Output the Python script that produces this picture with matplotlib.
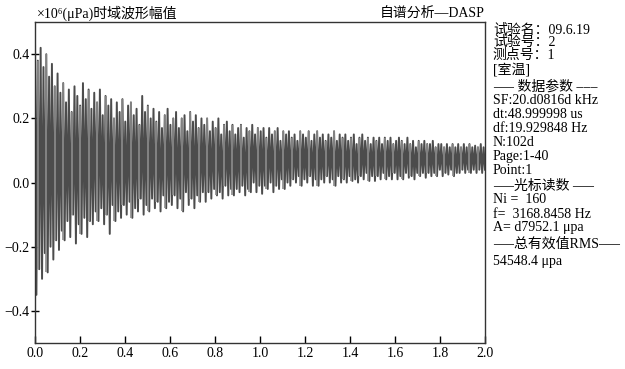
import numpy as np
import matplotlib
matplotlib.use('Agg')
import matplotlib.pyplot as plt

# 波形包络峰值 (上峰 / 下峰), 每行 0.125 s
upper = [
    0.45, 0.38, 0.42, 0.36, 0.40, 0.33, 0.37, 0.30, 0.34, 0.28,
    0.31, 0.25, 0.29, 0.22, 0.30, 0.27, 0.24, 0.31, 0.26, 0.29,
    0.23, 0.28, 0.25, 0.29, 0.21, 0.27, 0.24, 0.26, 0.20, 0.25,
    0.22, 0.26, 0.19, 0.24, 0.25, 0.21, 0.23, 0.18, 0.27, 0.22,
    0.24, 0.20, 0.23, 0.19, 0.22, 0.17, 0.21, 0.23, 0.18, 0.20,
    0.22, 0.17, 0.20, 0.21, 0.16, 0.22, 0.19, 0.21, 0.17, 0.20,
    0.18, 0.20, 0.16, 0.19, 0.17, 0.20, 0.15, 0.18, 0.19, 0.16,
    0.18, 0.15, 0.17, 0.18, 0.14, 0.17, 0.16, 0.18, 0.15, 0.17,
    0.16, 0.17, 0.14, 0.17, 0.15, 0.16, 0.17, 0.13, 0.16, 0.15,
    0.16, 0.14, 0.15, 0.13, 0.16, 0.15, 0.14, 0.16, 0.13, 0.15,
    0.16, 0.14, 0.15, 0.13, 0.15, 0.14, 0.16, 0.13, 0.15, 0.14,
    0.15, 0.13, 0.14, 0.15, 0.12, 0.14, 0.15, 0.13, 0.14, 0.12,
    0.14, 0.13, 0.14, 0.12, 0.14, 0.13, 0.14, 0.12, 0.13, 0.14,
    0.13, 0.12, 0.14, 0.12, 0.13, 0.11, 0.13, 0.12, 0.13, 0.12,
    0.12, 0.13, 0.11, 0.12, 0.12, 0.11, 0.12, 0.11, 0.12, 0.11,
    0.12, 0.11, 0.12, 0.11, 0.12, 0.11, 0.115, 0.11, 0.12, 0.11,
]
lower = [
    -0.35, -0.27, -0.30, -0.22, -0.28, -0.20, -0.24, -0.18, -0.21, -0.15,
    -0.18, -0.12, -0.17, -0.10, -0.19, -0.13, -0.16, -0.11, -0.17, -0.12,
    -0.13, -0.09, -0.12, -0.08, -0.13, -0.10, -0.16, -0.07, -0.12, -0.09,
    -0.11, -0.07, -0.10, -0.06, -0.11, -0.08, -0.09, -0.05, -0.10, -0.07,
    -0.09, -0.05, -0.08, -0.06, -0.09, -0.04, -0.08, -0.06, -0.07, -0.04,
    -0.08, -0.05, -0.09, -0.03, -0.07, -0.05, -0.08, -0.04, -0.06, -0.03,
    -0.06, -0.03, -0.05, -0.02, -0.04, -0.03, -0.05, -0.01, -0.04, -0.02,
    -0.04, -0.02, -0.03, -0.01, -0.04, -0.02, -0.03, 0.00, -0.03, -0.01,
    -0.035, -0.01, -0.02, 0.00, -0.03, -0.01, -0.02, 0.01, -0.02, 0.00,
    -0.01, 0.01, 0.00, 0.02, -0.01, 0.01, 0.00, 0.02, -0.01, 0.01,
    -0.01, 0.01, 0.00, 0.02, 0.00, 0.01, -0.01, 0.02, 0.00, 0.01,
    0.00, 0.02, 0.005, 0.01, 0.00, 0.02, 0.01, 0.03, 0.005, 0.02,
    0.005, 0.02, 0.01, 0.03, 0.01, 0.02, 0.01, 0.03, 0.01, 0.02,
    0.01, 0.03, 0.015, 0.02, 0.01, 0.03, 0.02, 0.03, 0.015, 0.03,
    0.02, 0.03, 0.02, 0.04, 0.02, 0.03, 0.025, 0.04, 0.02, 0.03,
    0.03, 0.04, 0.03, 0.04, 0.03, 0.04, 0.03, 0.04, 0.03, 0.04,
]
t_end = 2.0

xticks = [0.0, 0.2, 0.4, 0.6, 0.8, 1.0, 1.2, 1.4, 1.6, 1.8, 2.0]
yticks = [-0.4, -0.2, 0.0, 0.2, 0.4]

info_lines = [
    '试验名：09.6.19', '试验号：2', '测点号：1', '[室温]',
    '––– 数据参数 –––', 'SF:20.d0816d kHz', 'dt:48.999998 us',
    'df:19.929848 Hz', 'N:102d', 'Page:1-40', 'Point:1',
    '–––光标读数 –––', 'Ni =  160', 'f=  3168.8458 Hz', 'A= d7952.1 μpa',
    '–––总有效值RMS–––', '54548.4 μpa',
]
info_y = [30, 42, 55, 70, 87, 101, 115, 129, 142, 156, 170,
          186, 200, 214, 228, 244, 262]

serif = ['Liberation Serif', 'DejaVu Serif', 'Noto Sans CJK SC']

fig = plt.figure(figsize=(6.25, 3.69), dpi=100)
ax = fig.add_axes([0.056, 0.0705, 0.72, 0.8695])

# 上下峰交替连成波形
n = len(upper)
t = np.linspace(0, t_end, 2 * n)
y = np.empty(2 * n)
y[0::2] = upper
y[1::2] = lower
ax.plot(t, y, color='#4c4c4c', lw=1.4)
ax.vlines(t[2::6], y[3::6][:len(t[2::6])], y[2::6], color='#8c8c8c', lw=1.2)

ax.set_xlim(0, 2.0)
ax.set_ylim(-0.5, 0.5)
ax.set_xticks(xticks)
ax.set_yticks(yticks)
ax.set_xticklabels([f'{v:.1f}' for v in xticks], family=serif, fontsize=10)
ax.set_yticklabels([f'{v:.1f}'.replace('-', '−') for v in yticks],
                   family=serif, fontsize=10)
ax.tick_params(axis='x', direction='in', length=5, width=1, pad=3)
ax.tick_params(axis='y', direction='inout', length=6, width=1, pad=1)
for s in ax.spines.values():
    s.set_color('#333333')
    s.set_linewidth(1.0)

W, H = 625, 369
fig.text(37 / W, 1 - 13 / H, '×10⁶(μPa)时域波形幅值', family=serif,
         fontsize=10, va='center', ha='left')
fig.text(485 / W, 1 - 13 / H, '自谱分析—DASP', family=serif,
         fontsize=10, va='center', ha='right')
for line, yy in zip(info_lines, info_y):
    fig.text(493 / W, 1 - yy / H, line, family=serif, fontsize=10,
             va='center', ha='left')

fig.savefig('out.png', dpi=100)
